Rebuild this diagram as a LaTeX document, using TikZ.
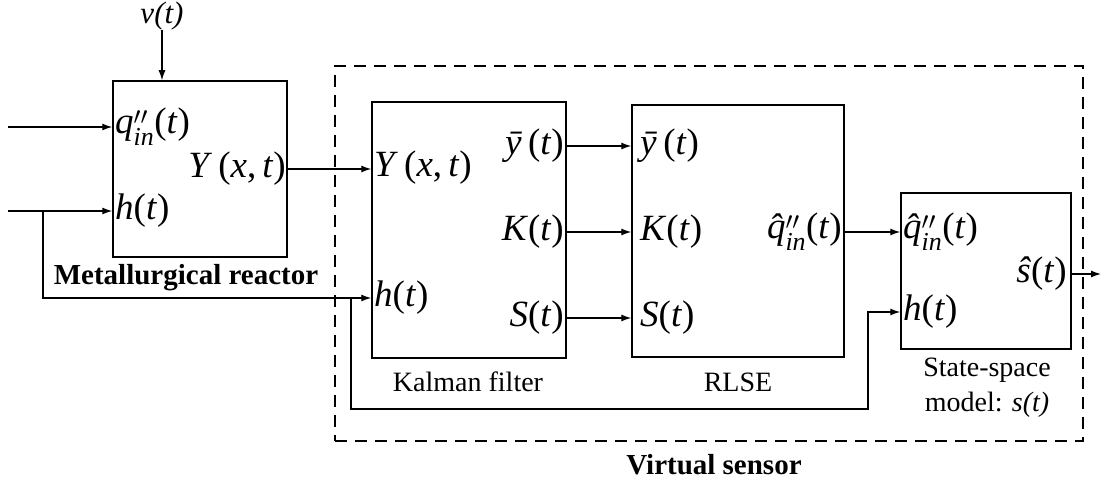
\documentclass[tikz,border=0pt]{standalone}
\usepackage{fontspec}
\usepackage{amsmath}
\setmainfont{Liberation Serif}
\usetikzlibrary{arrows.meta}
\newcommand\vi[1]{\textit{#1}}
\newcommand\qin{\vi{q}$^{\prime\prime}_{\textit{in}}$}
\newcommand\qhin{{\itshape q^^^^0302}$^{\prime\prime}_{\textit{in}}$}
\begin{document}
\begin{tikzpicture}[x=1pt,y=-1pt,
  box/.style={draw, line width=1.5pt, inner sep=0pt},
  lab/.style={font=\fontsize{37}{40}\selectfont, inner sep=0pt},
  captxt/.style={font=\fontsize{28}{35}\selectfont, inner sep=0pt},
  captxtb/.style={font=\fontsize{29}{35}\selectfont\bfseries, inner sep=0pt},
  arr/.style={line width=1.3pt, -{Latex[length=10pt,width=7pt]}},
  wire/.style={line width=1.3pt}]
\useasboundingbox (0,0) rectangle (1102,484);
% blocks
\node[box, minimum width=174pt, minimum height=176pt] (reactor) at (200,169) {};
\node[box, minimum width=194pt, minimum height=256pt] (kf) at (469,230) {};
\node[box, minimum width=212pt, minimum height=252pt] (rlse) at (738,231) {};
\node[box, minimum width=170pt, minimum height=156pt] (ss) at (986,271) {};
\node[draw, line width=2.8pt, dash pattern=on 12pt off 8pt, minimum width=748pt, minimum height=375pt, inner sep=0pt] (vs) at (709,253.5) {};
% reactor
\node[font=\fontsize{31}{33}\selectfont\itshape, inner sep=0pt] (vt) at (162,16) {v(t)};
\draw[arr] (vt.south) -- (reactor.north -| vt.south);
\node[lab, anchor=west] (r1) at (115,127) {\qin(\vi{t})};
\node[lab, anchor=west] (r2) at (115,211) {\vi{h}(\vi{t})};
\node[lab, anchor=east] (r3) at (286,169) {\vi{Y}\,(\vi{x},\,\vi{t})};
\node[captxtb] (rcap) at (186,278) {Metallurgical reactor};
% Kalman
\node[lab, anchor=west] (k1) at (374,168) {\vi{Y}\,(\vi{x},\,\vi{t})};
\node[lab, anchor=west] (k2) at (374,298) {\vi{h}(\vi{t})};
\node[lab, anchor=east] (k3) at (564,146) {\vi{^^^^0233}\,(\vi{t})};
\node[lab, anchor=east] (k4) at (564,232) {\vi{K}(\vi{t})};
\node[lab, anchor=east] (k5) at (564,318) {\vi{S}(\vi{t})};
\node[captxt] (kcap) at (468,382) {Kalman filter};
% RLSE
\node[lab, anchor=west] (l1) at (640,146) {\vi{^^^^0233}\,(\vi{t})};
\node[lab, anchor=west] (l2) at (640,232) {\vi{K}(\vi{t})};
\node[lab, anchor=west] (l3) at (640,318) {\vi{S}(\vi{t})};
\node[lab, anchor=east] (l4) at (842,232) {\qhin(\vi{t})};
\node[captxt] (lcap) at (738,382) {RLSE};
% state space
\node[lab, anchor=west] (s1) at (903,232) {\qhin(\vi{t})};
\node[lab, anchor=west] (s2) at (903,312) {\vi{h}(\vi{t})};
\node[lab, anchor=east] (s3) at (1067,274) {\vi{^^^^015d}(\vi{t})};
\node[captxt, align=center] (scap) at (987,388) {State-space\\model: \textit{s(t)}};
\node[captxtb] (vcap) at (714,465) {Virtual sensor};
% connectors
\coordinate (in1) at (8,127);
\coordinate (in2) at (8,211);
\coordinate (br1) at (43,211);
\coordinate (kh) at (43,298);
\coordinate (br2) at (351,298);
\coordinate (c3) at (351,409);
\coordinate (c4) at (868,409);
\coordinate (c5) at (868,312);
\coordinate (out) at (1101,274);
\draw[arr] (in1) -- (in1 -| reactor.west);
\draw[arr] (in2) -- (in2 -| reactor.west);
\draw[arr] (br1) -- (kh) -- (kh -| kf.west);
\draw[arr] (br2) -- (c3) -- (c4) -- (c5) -- (c5 -| ss.west);
\draw[arr] (reactor.east |- 0,169) -- (kf.west |- 0,169);
\draw[arr] (kf.east |- 0,146) -- (rlse.west |- 0,146);
\draw[arr] (kf.east |- 0,232) -- (rlse.west |- 0,232);
\draw[arr] (kf.east |- 0,318) -- (rlse.west |- 0,318);
\draw[arr] (rlse.east |- 0,232) -- (ss.west |- 0,232);
\draw[arr] (ss.east |- 0,274) -- (out);
\end{tikzpicture}
\end{document}
